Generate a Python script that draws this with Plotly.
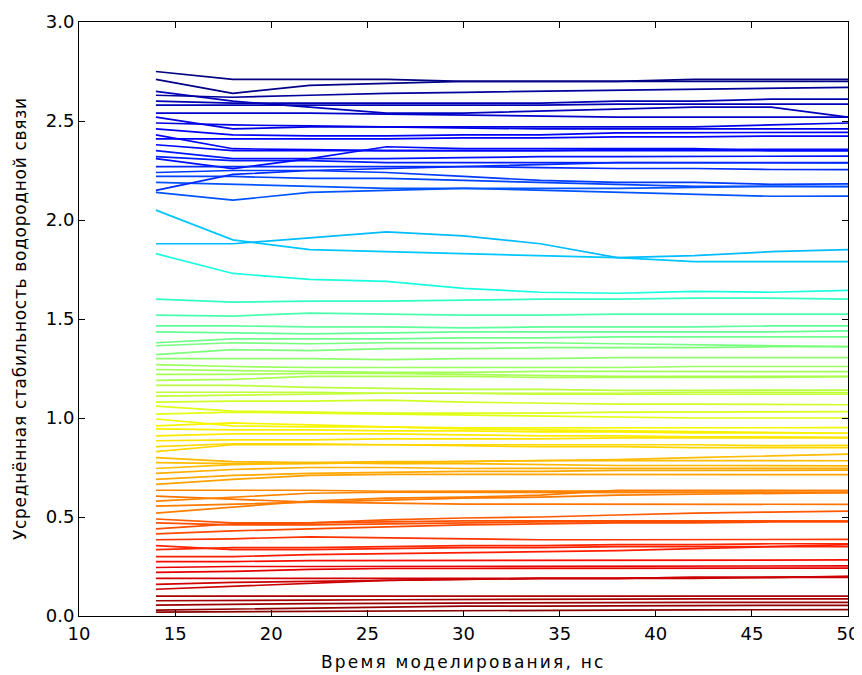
import numpy as np
import plotly.graph_objects as go

# Simulation time points (ns)
time_ns = [14, 18, 22, 26, 30, 34, 38, 42, 46, 50]

x_ticks = [10, 15, 20, 25, 30, 35, 40, 45, 50]
y_ticks = [0.0, 0.5, 1.0, 1.5, 2.0, 2.5, 3.0]

x_title = "Время моделирования, нс"
y_title = "Усреднённая стабильность водородной связи"

# Averaged hydrogen-bond stability per bond, values at each time point
band_blue = [
    [2.75, 2.71, 2.71, 2.71, 2.70, 2.70, 2.70, 2.71, 2.71, 2.71],
    [2.71, 2.64, 2.68, 2.69, 2.70, 2.70, 2.70, 2.70, 2.70, 2.70],
    [2.65, 2.60, 2.57, 2.54, 2.54, 2.55, 2.56, 2.57, 2.57, 2.52],
    [2.63, 2.62, 2.63, 2.64, 2.645, 2.65, 2.655, 2.66, 2.665, 2.67],
    [2.60, 2.59, 2.59, 2.59, 2.59, 2.59, 2.60, 2.60, 2.61, 2.61],
    [2.58, 2.58, 2.58, 2.58, 2.58, 2.58, 2.585, 2.585, 2.585, 2.585],
    [2.54, 2.54, 2.54, 2.535, 2.53, 2.525, 2.52, 2.52, 2.52, 2.52],
    [2.52, 2.46, 2.47, 2.47, 2.47, 2.47, 2.47, 2.47, 2.48, 2.49],
    [2.49, 2.48, 2.475, 2.47, 2.465, 2.46, 2.46, 2.46, 2.46, 2.46],
    [2.46, 2.43, 2.425, 2.425, 2.43, 2.43, 2.44, 2.44, 2.44, 2.443],
    [2.43, 2.36, 2.355, 2.35, 2.35, 2.35, 2.355, 2.355, 2.357, 2.357],
    [2.41, 2.41, 2.41, 2.41, 2.415, 2.415, 2.42, 2.42, 2.424, 2.424],
    [2.38, 2.35, 2.35, 2.35, 2.35, 2.35, 2.35, 2.35, 2.35, 2.35],
    [2.35, 2.31, 2.31, 2.31, 2.315, 2.32, 2.32, 2.32, 2.323, 2.323],
    [2.32, 2.30, 2.30, 2.29, 2.29, 2.29, 2.29, 2.29, 2.29, 2.289],
    [2.31, 2.26, 2.31, 2.37, 2.36, 2.36, 2.36, 2.36, 2.35, 2.35],
    [2.27, 2.27, 2.27, 2.27, 2.27, 2.265, 2.26, 2.26, 2.255, 2.254],
    [2.24, 2.25, 2.25, 2.24, 2.22, 2.20, 2.19, 2.19, 2.18, 2.182],
    [2.22, 2.22, 2.21, 2.21, 2.20, 2.19, 2.18, 2.17, 2.17, 2.168],
    [2.19, 2.18, 2.17, 2.16, 2.16, 2.15, 2.14, 2.13, 2.12, 2.121],
    [2.15, 2.23, 2.25, 2.26, 2.27, 2.28, 2.29, 2.29, 2.29, 2.29],
    [2.14, 2.10, 2.14, 2.15, 2.16, 2.16, 2.16, 2.165, 2.17, 2.17],
]

band_cyan = [
    [2.05, 1.90, 1.85, 1.84, 1.83, 1.82, 1.81, 1.79, 1.79, 1.79],
    [1.88, 1.88, 1.91, 1.94, 1.92, 1.88, 1.81, 1.82, 1.84, 1.85],
    [1.83, 1.73, 1.70, 1.69, 1.655, 1.635, 1.63, 1.64, 1.635, 1.645],
    [1.60, 1.585, 1.59, 1.59, 1.595, 1.60, 1.60, 1.605, 1.605, 1.60],
    [1.52, 1.515, 1.53, 1.525, 1.52, 1.52, 1.525, 1.525, 1.525, 1.525],
    [1.465, 1.465, 1.46, 1.46, 1.455, 1.46, 1.46, 1.46, 1.465, 1.465],
]

band_green_yellow = [
    [1.435, 1.43, 1.425, 1.43, 1.435, 1.435, 1.435, 1.435, 1.435, 1.44],
    [1.38, 1.40, 1.40, 1.40, 1.405, 1.405, 1.41, 1.41, 1.41, 1.41],
    [1.365, 1.38, 1.375, 1.38, 1.38, 1.38, 1.375, 1.37, 1.365, 1.36],
    [1.32, 1.345, 1.34, 1.35, 1.35, 1.355, 1.355, 1.355, 1.36, 1.36],
    [1.30, 1.30, 1.30, 1.295, 1.30, 1.30, 1.305, 1.305, 1.305, 1.305],
    [1.27, 1.26, 1.255, 1.255, 1.255, 1.255, 1.255, 1.26, 1.26, 1.26],
    [1.245, 1.24, 1.235, 1.23, 1.23, 1.235, 1.235, 1.235, 1.235, 1.234],
    [1.22, 1.22, 1.225, 1.225, 1.22, 1.215, 1.21, 1.21, 1.21, 1.21],
    [1.19, 1.195, 1.21, 1.21, 1.21, 1.205, 1.205, 1.205, 1.205, 1.209],
    [1.165, 1.165, 1.155, 1.15, 1.145, 1.145, 1.14, 1.14, 1.14, 1.141],
    [1.13, 1.13, 1.13, 1.125, 1.125, 1.125, 1.125, 1.13, 1.13, 1.128],
    [1.11, 1.115, 1.12, 1.125, 1.125, 1.12, 1.12, 1.12, 1.12, 1.12],
    [1.08, 1.085, 1.085, 1.09, 1.08, 1.075, 1.07, 1.07, 1.067, 1.067],
    [1.06, 1.035, 1.03, 1.025, 1.025, 1.025, 1.03, 1.03, 1.03, 1.032],
    [1.02, 1.03, 1.025, 1.02, 1.015, 1.01, 1.005, 1.0, 1.0, 1.0],
    [0.995, 0.96, 0.955, 0.955, 0.95, 0.95, 0.95, 0.95, 0.95, 0.951],
    [0.96, 0.975, 0.965, 0.955, 0.945, 0.94, 0.935, 0.93, 0.925, 0.923],
    [0.945, 0.94, 0.94, 0.935, 0.935, 0.93, 0.93, 0.925, 0.925, 0.923],
    [0.91, 0.92, 0.92, 0.92, 0.915, 0.91, 0.91, 0.905, 0.905, 0.902],
    [0.885, 0.89, 0.89, 0.895, 0.895, 0.895, 0.90, 0.90, 0.90, 0.90],
    [0.855, 0.87, 0.87, 0.865, 0.865, 0.865, 0.865, 0.865, 0.86, 0.862],
    [0.83, 0.865, 0.865, 0.865, 0.86, 0.855, 0.855, 0.85, 0.85, 0.85],
]

band_orange = [
    [0.80, 0.78, 0.775, 0.77, 0.77, 0.765, 0.76, 0.76, 0.76, 0.758],
    [0.775, 0.77, 0.775, 0.78, 0.78, 0.785, 0.785, 0.785, 0.785, 0.784],
    [0.745, 0.765, 0.77, 0.775, 0.78, 0.785, 0.79, 0.80, 0.81, 0.818],
    [0.72, 0.74, 0.75, 0.75, 0.745, 0.745, 0.745, 0.745, 0.746, 0.746],
    [0.69, 0.71, 0.72, 0.725, 0.73, 0.73, 0.735, 0.735, 0.737, 0.737],
    [0.665, 0.69, 0.71, 0.715, 0.715, 0.715, 0.715, 0.715, 0.714, 0.714],
    [0.635, 0.635, 0.635, 0.63, 0.63, 0.63, 0.63, 0.63, 0.633, 0.633],
    [0.605, 0.59, 0.575, 0.57, 0.565, 0.565, 0.565, 0.565, 0.565, 0.564],
    [0.58, 0.60, 0.62, 0.625, 0.625, 0.625, 0.625, 0.625, 0.625, 0.623],
    [0.555, 0.565, 0.575, 0.585, 0.595, 0.60, 0.61, 0.615, 0.62, 0.623],
    [0.52, 0.55, 0.58, 0.595, 0.60, 0.61, 0.635, 0.635, 0.635, 0.633],
]

band_red = [
    [0.49, 0.47, 0.47, 0.485, 0.495, 0.50, 0.51, 0.52, 0.525, 0.53],
    [0.47, 0.46, 0.46, 0.465, 0.47, 0.475, 0.475, 0.478, 0.48, 0.48],
    [0.44, 0.465, 0.47, 0.475, 0.48, 0.48, 0.48, 0.48, 0.48, 0.48],
    [0.415, 0.43, 0.44, 0.45, 0.46, 0.465, 0.47, 0.47, 0.475, 0.475],
    [0.385, 0.39, 0.40, 0.395, 0.39, 0.385, 0.385, 0.385, 0.387, 0.387],
    [0.355, 0.335, 0.335, 0.34, 0.345, 0.345, 0.35, 0.35, 0.35, 0.35],
    [0.335, 0.345, 0.345, 0.35, 0.355, 0.355, 0.36, 0.36, 0.365, 0.365],
    [0.30, 0.30, 0.31, 0.315, 0.32, 0.325, 0.33, 0.34, 0.35, 0.36],
    [0.275, 0.275, 0.28, 0.28, 0.28, 0.28, 0.28, 0.283, 0.283, 0.283],
    [0.245, 0.25, 0.25, 0.25, 0.25, 0.25, 0.25, 0.252, 0.253, 0.253],
    [0.22, 0.225, 0.235, 0.24, 0.24, 0.24, 0.24, 0.242, 0.242, 0.242],
    [0.19, 0.19, 0.19, 0.19, 0.19, 0.19, 0.19, 0.195, 0.195, 0.199],
    [0.16, 0.17, 0.175, 0.18, 0.185, 0.19, 0.19, 0.195, 0.195, 0.20],
    [0.135, 0.15, 0.165, 0.18, 0.185, 0.19, 0.19, 0.19, 0.195, 0.195],
    [0.10, 0.10, 0.10, 0.10, 0.10, 0.10, 0.10, 0.10, 0.10, 0.10],
    [0.077, 0.08, 0.08, 0.082, 0.084, 0.085, 0.085, 0.086, 0.086, 0.086],
    [0.055, 0.06, 0.062, 0.064, 0.066, 0.067, 0.068, 0.069, 0.069, 0.069],
    [0.03, 0.035, 0.04, 0.045, 0.05, 0.05, 0.052, 0.053, 0.054, 0.054],
    [0.02, 0.022, 0.025, 0.027, 0.028, 0.03, 0.03, 0.031, 0.032, 0.032],
]

all_series = band_blue + band_cyan + band_green_yellow + band_orange + band_red


def mpl_jet(f):
    r = np.interp(f, [0, 0.35, 0.66, 0.89, 1], [0, 0, 1, 1, 0.5])
    g = np.interp(f, [0, 0.125, 0.375, 0.64, 0.91, 1], [0, 0, 1, 1, 0, 0])
    b = np.interp(f, [0, 0.11, 0.34, 0.65, 1], [0.5, 1, 1, 0, 0])
    return "rgb(%d,%d,%d)" % (round(r * 255), round(g * 255), round(b * 255))


def spaced(t, px):
    return '<span style="letter-spacing:%.1fpx">%s</span>' % (px, t)


means = [float(np.mean(s)) for s in all_series]
top = max(means)

fig = go.Figure()
for s, m in zip(all_series, means):
    fig.add_trace(go.Scatter(
        x=time_ns, y=s, mode="lines",
        line=dict(color=mpl_jet(1 - m / top), width=1.7),
        showlegend=False, hoverinfo="skip",
    ))

FONT = "DejaVu Sans"
tick_font = dict(family=FONT, size=18, color="black")
axis_common = dict(
    showline=True, linecolor="black", linewidth=1, mirror="ticks",
    ticks="inside", ticklen=6, tickwidth=1, tickcolor="black",
    showgrid=False, zeroline=False, tickfont=tick_font,
    ticklabeloverflow="allow", automargin=False,
)

# The page body has an 8px margin, so the figure is offset by 8px.
fig.update_layout(
    width=854, height=667,
    margin=dict(l=71, r=14, t=14, b=59, autoexpand=False),
    paper_bgcolor="white", plot_bgcolor="white",
    xaxis=dict(range=[10, 50], tickvals=x_ticks, ticklabelstandoff=1, **axis_common),
    yaxis=dict(range=[0, 3], tickvals=y_ticks, tickformat=".1f", **axis_common),
    annotations=[
        dict(text=spaced(x_title, 2.2), xref="paper", yref="paper", x=0.5, y=0, yshift=-46,
             xanchor="center", yanchor="middle", showarrow=False,
             font=dict(family=FONT, size=17, color="black")),
        dict(text=spaced(y_title, 0.7), xref="paper", yref="paper", x=0, y=0.5, xshift=-59,
             xanchor="center", yanchor="middle", textangle=-90, showarrow=False,
             font=dict(family=FONT, size=17, color="black")),
    ],
)

fig.write_html("out.html")
